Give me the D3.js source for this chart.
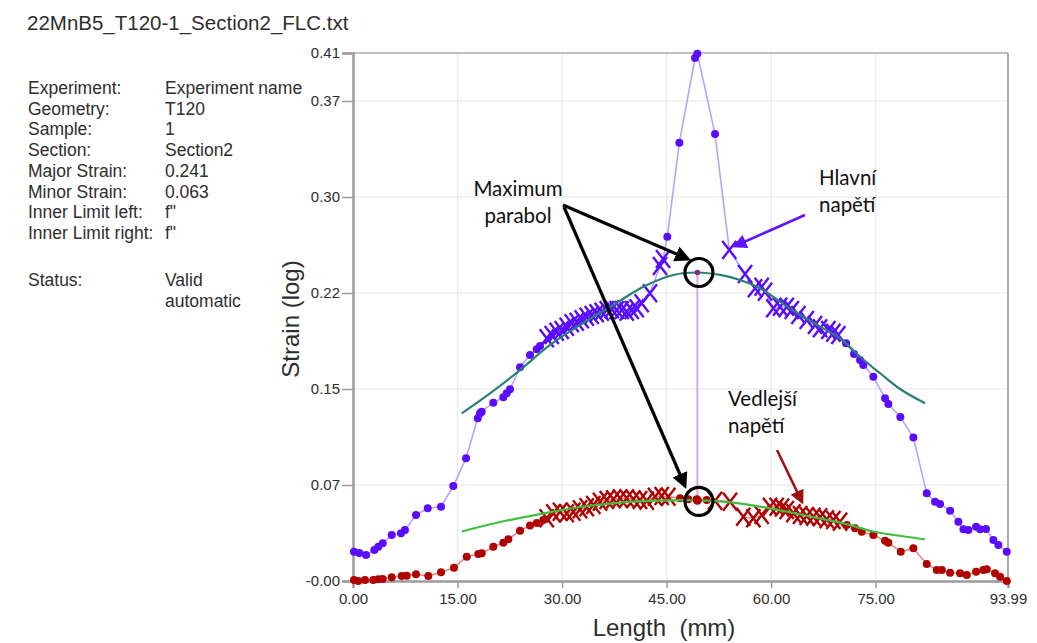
<!DOCTYPE html>
<html>
<head>
<meta charset="utf-8">
<script src="https://cdn.jsdelivr.net/npm/d3@7"></script>
<style>
  body { margin: 0; background: #fff; }
  svg { display: block; }
</style>
</head>
<body>
<svg id="chart" width="1037" height="643"></svg>
<script>
// ---- Section profile: major (Hlavní) strain along the section ----
const majorLength = [0.14,0.90,1.87,3.06,3.63,4.26,5.55,6.89,7.46,9.04,10.72,12.63,14.39,16.22,17.90,18.23,18.47,20.13,21.57,22.06,22.53,23.97,25.40,26.36,26.84,
  27.80,28.52,29.23,29.95,30.67,31.39,32.10,32.82,33.54,34.26,34.97,35.69,36.41,37.13,37.84,38.56,39.28,40.00,40.71,41.43,42.62,44.06,44.49,
  45.10,46.83,49.08,49.41,51.95,
  54.00,56.26,57.69,58.65,59.13,60.32,61.28,62.24,62.96,63.91,65.11,66.30,67.02,68.21,68.93,69.65,
  70.75,71.90,72.76,73.23,74.67,76.35,76.82,78.54,80.41,82.33,83.52,84.24,85.68,86.87,87.59,88.30,89.41,89.98,90.84,91.89,92.61,93.81];
const majorStrain = [0.0229,0.0219,0.0203,0.0242,0.0268,0.0295,0.0359,0.0373,0.0398,0.0516,0.0568,0.0580,0.0742,0.0959,0.1271,0.1310,0.1323,0.1393,0.1435,0.1466,0.1498,0.1670,0.1766,0.1810,0.1836,
  0.1896,0.1922,0.1948,0.1961,0.1987,0.2013,0.2026,0.2045,0.2065,0.2078,0.2091,0.2104,0.2117,0.2123,0.2117,0.2117,0.2104,0.2117,0.2130,0.2170,0.2248,0.2461,0.2516,
  0.2690,0.3424,0.4086,0.4120,0.3492,
  0.2586,0.2398,0.2287,0.2299,0.2260,0.2130,0.2143,0.2143,0.2117,0.2078,0.2039,0.2000,0.1974,0.1961,0.1940,0.1922,
  0.1857,0.1773,0.1727,0.1688,0.1596,0.1427,0.1383,0.1281,0.1121,0.0685,0.0620,0.0602,0.0549,0.0463,0.0404,0.0398,0.0424,0.0404,0.0406,0.0320,0.0281,0.0229];
// 1 = point inside the fitting window (drawn as a cross), 0 = plain point
const majorInFit = [0,0,0,0,0,0,0,0,0,0,0,0,0,0,0,0,0,0,0,0,0,0,0,0,0,
  1,1,1,1,1,1,1,1,1,1,1,1,1,1,1,1,1,1,1,1,1,1,1,
  0,0,0,0,0,
  1,1,1,1,1,1,1,1,1,1,1,1,1,1,1,1,
  0,0,0,0,0,0,0,0,0,0,0,0,0,0,0,0,0,0,0,0,0,0];

// ---- Section profile: minor (Vedlejší) strain ----
const minorLength = [0.14,0.76,1.72,2.91,3.63,4.26,5.55,6.99,7.71,9.04,10.81,12.63,14.49,16.32,17.98,18.47,20.13,21.57,22.29,23.97,25.40,26.36,27.31,
  27.80,28.75,29.71,30.67,31.62,32.58,33.54,34.49,35.45,36.41,37.36,38.32,39.28,40.23,41.19,42.15,43.34,44.30,45.25,
  46.93,48.12,49.33,50.76,
  51.95,54.10,56.01,57.45,58.65,59.84,60.80,61.57,62.24,63.19,64.15,65.11,66.06,67.02,67.98,68.93,69.89,
  70.85,72.04,73.00,74.67,76.35,76.82,78.60,80.41,82.33,83.77,84.49,85.68,87.11,88.07,89.41,90.45,90.94,92.13,92.85,93.81];
const minorStrain = [0.0008,0.0000,0.0008,0.0008,0.0013,0.0016,0.0029,0.0039,0.0041,0.0052,0.0039,0.0068,0.0104,0.0190,0.0211,0.0216,0.0268,0.0299,0.0326,0.0393,0.0434,0.0453,0.0477,
  0.0490,0.0529,0.0541,0.0529,0.0541,0.0560,0.0576,0.0594,0.0620,0.0633,0.0638,0.0646,0.0646,0.0638,0.0633,0.0627,0.0659,0.0664,0.0659,
  0.0646,0.0638,0.0638,0.0633,
  0.0627,0.0620,0.0502,0.0490,0.0516,0.0580,0.0580,0.0574,0.0555,0.0529,0.0516,0.0508,0.0502,0.0498,0.0482,0.0477,0.0463,
  0.0438,0.0412,0.0385,0.0359,0.0315,0.0299,0.0229,0.0255,0.0133,0.0086,0.0086,0.0065,0.0060,0.0047,0.0073,0.0086,0.0091,0.0060,0.0034,0.0000];
const minorInFit = [0,0,0,0,0,0,0,0,0,0,0,0,0,0,0,0,0,0,0,0,0,0,0,
  1,1,1,1,1,1,1,1,1,1,1,1,1,1,1,1,1,1,1,
  0,0,0,0,
  1,1,1,1,1,1,1,1,1,1,1,1,1,1,1,1,1,
  0,0,0,0,0,0,0,0,0,0,0,0,0,0,0,0,0,0,0,0];

// ---- Inverse-parabola fits ----
const majorFitLength = [15.60,19.66,23.97,28.27,32.58,37.36,41.66,45.97,49.42,52.67,55.54,58.41,61.28,64.15,67.02,69.89,72.76,75.63,78.50,82.09];
const majorFitStrain = [0.1310,0.1466,0.1648,0.1844,0.2000,0.2156,0.2299,0.2391,0.2410,0.2391,0.2352,0.2287,0.2182,0.2078,0.1987,0.1896,0.1752,0.1623,0.1500,0.1388];
const minorFitLength = [15.60,21.10,26.84,32.58,38.32,44.06,49.42,54.53,60.27,65.58,70.75,74.63,82.09];
const minorFitStrain = [0.0387,0.0461,0.0523,0.0578,0.0613,0.0628,0.0630,0.0613,0.0563,0.0504,0.0445,0.0387,0.0326];

// Maxima of the fitted parabolas
const maxLength = 49.42;
const majorMax = 0.241;
const minorMax = 0.063;

// ---- Axes ----
const xTickValues = [0, 15, 30, 45, 60, 75, 93.99];
const xTickLabels = ["0.00", "15.00", "30.00", "45.00", "60.00", "75.00", "93.99"];
const yTickValues = [0, 0.075, 0.15, 0.225, 0.30, 0.375, 0.4125];
const yTickLabels = ["-0.00", "0.07", "0.15", "0.22", "0.30", "0.37", "0.41"];

// ---- Header / info panel ----
const fileTitle = "22MnB5_T120-1_Section2_FLC.txt";
const infoKeys = ["Experiment:", "Geometry:", "Sample:", "Section:", "Major Strain:", "Minor Strain:", "Inner Limit left:", "Inner Limit right:"];
const infoValues = ["Experiment name", "T120", "1", "Section2", "0.241", "0.063", "f\"", "f\""];
const statusKey = "Status:";
const statusValue = ["Valid", "automatic"];

// ---------------------------------------------------------------
const svg = d3.select("#chart");
const plot = { left: 353, top: 53, width: 655, height: 528 };
const x = d3.scaleLinear().domain([0, 93.99]).range([plot.left, plot.left + plot.width]);
const y = d3.scaleLinear().domain([0, 0.4125]).range([plot.top + plot.height, plot.top]);

const SANS = "Liberation Sans, Arial, sans-serif";
const TXT = "#2e2e2e";
const AX = "#9b9b9b";
const BLUE = "#5a0cff";
const BLUE_LINE = "#b7a2ff";
const RED = "#b00000";
const RED_LINE = "#e38a8a";

// header
svg.append("text").attr("x", 27).attr("y", 30)
  .attr("font-family", SANS).attr("font-size", 20.5)
  .attr("fill", TXT).text(fileTitle);

const info = svg.append("g").attr("font-family", SANS)
  .attr("font-size", 17.5).attr("fill", TXT);
infoKeys.forEach((k, i) => {
  const by = 94 + i * 20.7;
  info.append("text").attr("x", 28).attr("y", by).text(k);
  info.append("text").attr("x", 165).attr("y", by).text(infoValues[i]);
});
info.append("text").attr("x", 28).attr("y", 286).text(statusKey);
statusValue.forEach((v, i) => info.append("text").attr("x", 165).attr("y", 286 + i * 20.7).text(v));

// grid
const grid = svg.append("g").attr("stroke", "#ececec").attr("stroke-width", 1.5);
xTickValues.slice(1, -1).forEach(v => grid.append("line")
  .attr("x1", x(v)).attr("x2", x(v)).attr("y1", plot.top).attr("y2", plot.top + plot.height));
yTickValues.slice(1, -1).forEach(v => grid.append("line")
  .attr("x1", plot.left).attr("x2", plot.left + plot.width).attr("y1", y(v)).attr("y2", y(v)));

// frame (top and right)
svg.append("line").attr("x1", plot.left).attr("x2", plot.left + plot.width)
  .attr("y1", plot.top).attr("y2", plot.top).attr("stroke", "#aaa").attr("stroke-width", 1.5);
svg.append("line").attr("x1", plot.left + plot.width).attr("x2", plot.left + plot.width)
  .attr("y1", plot.top).attr("y2", plot.top + plot.height).attr("stroke", "#aaa").attr("stroke-width", 2);

// axes
const yAxis = svg.append("g").attr("transform", `translate(${plot.left},0)`)
  .call(d3.axisLeft(y).tickValues(yTickValues).tickSize(11).tickPadding(2)
    .tickFormat((d, i) => yTickLabels[i]));
const xAxis = svg.append("g").attr("transform", `translate(0,${plot.top + plot.height})`)
  .call(d3.axisBottom(x).tickValues(xTickValues).tickSize(7).tickPadding(5)
    .tickFormat((d, i) => xTickLabels[i]));
[yAxis, xAxis].forEach(a => {
  a.select(".domain").attr("stroke", AX).attr("stroke-width", 2.5);
  a.selectAll(".tick line").attr("stroke", AX).attr("stroke-width", 1.5);
  a.selectAll(".tick text").attr("fill", TXT).attr("font-size", 15)
    .attr("font-family", SANS);
});

svg.append("text").attr("transform", `translate(299,${plot.top + plot.height / 2 + 2}) rotate(-90)`)
  .attr("text-anchor", "middle").attr("font-family", SANS)
  .attr("font-size", 24).attr("fill", TXT).text("Strain (log)");
svg.append("text").attr("x", 664).attr("y", 636).attr("text-anchor", "middle")
  .attr("font-family", SANS)
  .attr("font-size", 24).attr("fill", TXT).attr("xml:space", "preserve").text("Length  (mm)");

// data
const major = majorLength.map((d, i) => ({ l: d, s: majorStrain[i], fit: majorInFit[i] }));
const minor = minorLength.map((d, i) => ({ l: d, s: minorStrain[i], fit: minorInFit[i] }));
const majorFit = majorFitLength.map((d, i) => ({ l: d, s: majorFitStrain[i] }));
const minorFit = minorFitLength.map((d, i) => ({ l: d, s: minorFitStrain[i] }));

const line = d3.line().x(d => x(d.l)).y(d => y(d.s));
const smooth = d3.line().x(d => x(d.l)).y(d => y(d.s)).curve(d3.curveCatmullRom.alpha(0.5));

function drawSeries(data, lineColor, color) {
  const g = svg.append("g");
  g.append("path").datum(data).attr("d", line).attr("fill", "none")
    .attr("stroke", lineColor).attr("stroke-width", 1.6);
  g.selectAll("circle").data(data.filter(d => !d.fit)).join("circle")
    .attr("cx", d => x(d.l)).attr("cy", d => y(d.s)).attr("r", 4).attr("fill", color);
  g.selectAll("path.cross").data(data.filter(d => d.fit)).join("path").attr("class", "cross")
    .attr("transform", d => `translate(${x(d.l)},${y(d.s)})`)
    .attr("d", "M-7,-9L7,9M7,-9L-7,9").attr("stroke", color).attr("stroke-width", 2.4)
    .attr("fill", "none");
  return g;
}

// vertical connector between the two maxima
svg.append("line").attr("x1", x(maxLength)).attr("x2", x(maxLength))
  .attr("y1", y(majorMax)).attr("y2", y(minorMax))
  .attr("stroke", "#d6a6e6").attr("stroke-width", 2);

drawSeries(minor, RED_LINE, RED);
svg.append("path").datum(minorFit).attr("d", smooth).attr("fill", "none")
  .attr("stroke", "#3fbf3f").attr("stroke-width", 2.2);
drawSeries(major, BLUE_LINE, BLUE);
svg.append("path").datum(majorFit).attr("d", smooth).attr("fill", "none")
  .attr("stroke", "#2a8073").attr("stroke-width", 2.2);

// maxima markers
svg.append("circle").attr("cx", x(maxLength)).attr("cy", y(minorMax)).attr("r", 4.5)
  .attr("fill", RED);
svg.append("circle").attr("cx", x(maxLength)).attr("cy", y(majorMax)).attr("r", 2.8)
  .attr("fill", "#8a2a8a");

// annotations
const defs = svg.append("defs");
function arrowHead(id, color, size) {
  defs.append("marker").attr("id", id).attr("viewBox", "0 0 10 10").attr("refX", 8).attr("refY", 5)
    .attr("markerWidth", size).attr("markerHeight", size).attr("orient", "auto")
    .attr("markerUnits", "strokeWidth")
    .append("path").attr("d", "M0,0L10,5L0,10Z").attr("fill", color);
}
arrowHead("headBlack", "#000", 5);
arrowHead("headBlue", "#5f14ff", 5.5);
arrowHead("headRed", "#a01010", 5.5);

const ann = svg.append("g");
[[x(maxLength) + 1.5, y(majorMax)], [x(maxLength) + 1.5, y(minorMax) + 1]].forEach(([cx, cy]) =>
  ann.append("circle").attr("cx", cx).attr("cy", cy).attr("r", 14)
    .attr("fill", "none").attr("stroke", "#000").attr("stroke-width", 3.2));

ann.append("line").attr("x1", 563).attr("y1", 205).attr("x2", 688).attr("y2", 259)
  .attr("stroke", "#000").attr("stroke-width", 3.2).attr("marker-end", "url(#headBlack)");
ann.append("line").attr("x1", 564).attr("y1", 207).attr("x2", 685).attr("y2", 486)
  .attr("stroke", "#000").attr("stroke-width", 3.2).attr("marker-end", "url(#headBlack)");
ann.append("line").attr("x1", 805).attr("y1", 215).attr("x2", 735).attr("y2", 246)
  .attr("stroke", "#5f14ff").attr("stroke-width", 2.6).attr("marker-end", "url(#headBlue)");
ann.append("line").attr("x1", 777).attr("y1", 450).attr("x2", 802).attr("y2", 502)
  .attr("stroke", "#a01010").attr("stroke-width", 2.6).attr("marker-end", "url(#headRed)");

const annFont = { "font-family": "Lato, 'Open Sans', sans-serif", "font-size": 20.5, "fill": "#111" };
function annText(lines, ax, by, anchor) {
  const t = ann.append("text").attr("text-anchor", anchor);
  Object.entries(annFont).forEach(([k, v]) => t.attr(k, v));
  lines.forEach((s, i) => t.append("tspan").attr("x", ax).attr("y", by + i * 26.7).text(s));
}
annText(["Maximum", "parabol"], 518, 196, "middle");
annText(["Hlavní", "napětí"], 819, 185, "start");
annText(["Vedlejší", "napětí"], 728, 406, "start");
</script>
</body>
</html>
